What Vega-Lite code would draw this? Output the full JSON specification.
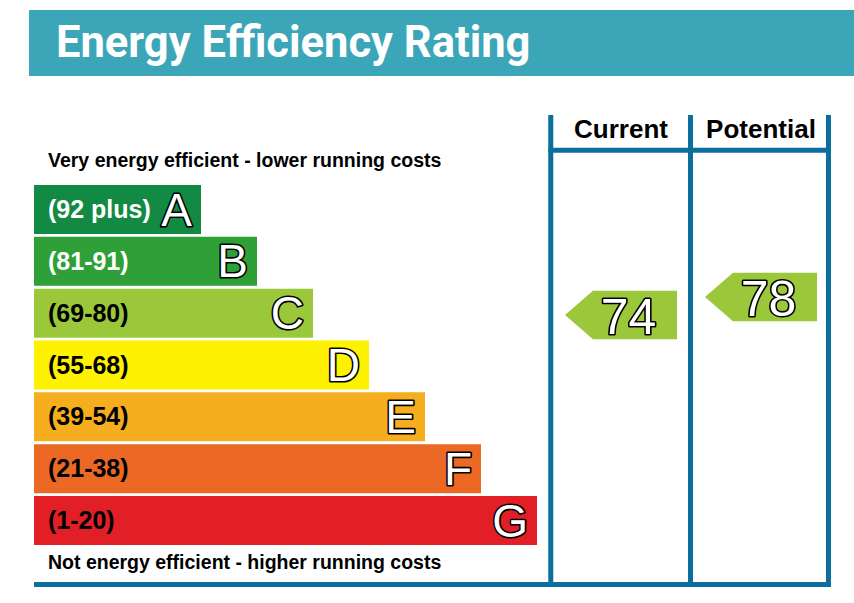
{
  "$schema": "https://vega.github.io/schema/vega-lite/v6.json",
  "width": 854,
  "height": 603,
  "autosize": {"type": "none"},
  "padding": 0,
  "background": "white",
  "config": {
    "view": {"stroke": null},
    "text": {"font": "Liberation Sans"}
  },
  "datasets": {
    "bands": [
      {"band": "A", "range": "(92 plus)", "order": 1},
      {"band": "B", "range": "(81-91)", "order": 2},
      {"band": "C", "range": "(69-80)", "order": 3},
      {"band": "D", "range": "(55-68)", "order": 4},
      {"band": "E", "range": "(39-54)", "order": 5},
      {"band": "F", "range": "(21-38)", "order": 6},
      {"band": "G", "range": "(1-20)", "order": 7}
    ],
    "ratings": [
      {"type": "Current", "score": 74},
      {"type": "Potential", "score": 78}
    ],
    "frame": [{}]
  },
  "layer": [
    {
      "data": {"name": "bands"},
      "layer": [
        {
          "data": {"name": "frame"},
          "mark": {"type": "rect", "fill": "#3CA6B9"},
          "encoding": {
            "x": {"datum": -2.0714, "type": "quantitative", "axis": null, "scale": {"domain": [-2.5893, 12.6607], "nice": false, "zero": false, "padding": 0}},
            "x2": {"datum": 12.6607},
            "y": {"datum": -2.8489, "type": "quantitative", "axis": null, "scale": {"domain": [-3.0418, 8.5916], "reverse": true, "nice": false, "zero": false, "padding": 0}},
            "y2": {"datum": -1.5755}
          }
        },
        {
          "data": {"name": "frame"},
          "mark": {"type": "text", "text": "Energy Efficiency Rating", "align": "left", "baseline": "alphabetic", "font": "Roboto", "fontSize": 43.5, "fontWeight": "bold", "fill": "white"},
          "encoding": {
            "x": {"datum": -1.5893, "type": "quantitative", "axis": null},
            "y": {"datum": -1.9421, "type": "quantitative", "axis": null}
          }
        },
        {
          "data": {"name": "frame"},
          "mark": {"type": "text", "text": "Very energy efficient - lower running costs", "align": "left", "baseline": "alphabetic", "fontSize": 19.5, "fontWeight": "bold", "fill": "black"},
          "encoding": {
            "x": {"datum": -1.7321, "type": "quantitative", "axis": null},
            "y": {"datum": 0.1801, "type": "quantitative", "axis": null}
          }
        },
        {
          "data": {"name": "frame"},
          "mark": {"type": "text", "text": "Not energy efficient - higher running costs", "align": "left", "baseline": "alphabetic", "fontSize": 19.5, "fontWeight": "bold", "fill": "black"},
          "encoding": {
            "x": {"datum": -1.7321, "type": "quantitative", "axis": null},
            "y": {"datum": 7.935, "type": "quantitative", "axis": null}
          }
        },
        {
          "mark": {"type": "bar", "height": 49, "orient": "horizontal"},
          "encoding": {
            "x": {"field": "order", "type": "quantitative", "axis": null},
            "x2": {"datum": -1.982},
            "y": {"field": "order", "type": "quantitative", "axis": null},
            "color": {
              "field": "band", "type": "nominal", "legend": null,
              "scale": {"domain": ["A", "B", "C", "D", "E", "F", "G"], "range": ["#138A43", "#2EA037", "#9BC83A", "#FFF200", "#F6AD1E", "#EB6925", "#E21F26"]}
            }
          }
        },
        {
          "mark": {"type": "text", "align": "left", "baseline": "alphabetic", "fontSize": 25, "fontWeight": "bold", "dy": 8.5},
          "encoding": {
            "x": {"datum": -1.7321, "type": "quantitative", "axis": null},
            "y": {"field": "order", "type": "quantitative", "axis": null},
            "text": {"field": "range", "type": "nominal"},
            "color": {"condition": {"test": "datum.order <= 2", "value": "white"}, "value": "black"}
          }
        },
        {
          "mark": {"type": "text", "align": "right", "baseline": "alphabetic", "fontSize": 46, "fill": "black", "stroke": "black", "strokeWidth": 3.2, "strokeJoin": "round", "dx": -9, "dy": 16},
          "encoding": {
            "x": {"field": "order", "type": "quantitative", "axis": null},
            "y": {"field": "order", "type": "quantitative", "axis": null},
            "text": {"field": "band", "type": "nominal"}
          }
        },
        {
          "mark": {"type": "text", "align": "right", "baseline": "alphabetic", "fontSize": 46, "fill": "white", "dx": -9, "dy": 16},
          "encoding": {
            "x": {"field": "order", "type": "quantitative", "axis": null},
            "y": {"field": "order", "type": "quantitative", "axis": null},
            "text": {"field": "band", "type": "nominal"}
          }
        },
        {
          "data": {"name": "frame"},
          "mark": {"type": "rule", "stroke": "#0B6E9C", "strokeWidth": 5},
          "encoding": {
            "x": {"datum": 7.246, "type": "quantitative", "axis": null},
            "y": {"datum": -0.8232, "type": "quantitative", "axis": null},
            "y2": {"datum": 8.283}
          }
        },
        {
          "data": {"name": "frame"},
          "mark": {"type": "rule", "stroke": "#0B6E9C", "strokeWidth": 5},
          "encoding": {
            "x": {"datum": 9.741, "type": "quantitative", "axis": null},
            "y": {"datum": -0.8232, "type": "quantitative", "axis": null},
            "y2": {"datum": 8.283}
          }
        },
        {
          "data": {"name": "frame"},
          "mark": {"type": "rule", "stroke": "#0B6E9C", "strokeWidth": 5},
          "encoding": {
            "x": {"datum": 12.205, "type": "quantitative", "axis": null},
            "y": {"datum": -0.8232, "type": "quantitative", "axis": null},
            "y2": {"datum": 8.283}
          }
        },
        {
          "data": {"name": "frame"},
          "mark": {"type": "rule", "stroke": "#0B6E9C", "strokeWidth": 5},
          "encoding": {
            "x": {"datum": 7.202, "type": "quantitative", "axis": null},
            "x2": {"datum": 12.25},
            "y": {"datum": -0.1441, "type": "quantitative", "axis": null}
          }
        },
        {
          "data": {"name": "frame"},
          "mark": {"type": "rule", "stroke": "#0B6E9C", "strokeWidth": 5},
          "encoding": {
            "x": {"datum": -1.982, "type": "quantitative", "axis": null},
            "x2": {"datum": 12.25},
            "y": {"datum": 8.2347, "type": "quantitative", "axis": null}
          }
        }
      ]
    },
    {
      "data": {"name": "ratings"},
      "layer": [
        {
          "mark": {"type": "point", "shape": "M-1,0L-0.5,-0.433L1,-0.433L1,0.433L-0.5,0.433Z", "size": 12544, "filled": true, "fill": "#9BC83A", "opacity": 1, "strokeWidth": 0},
          "encoding": {
            "x": {"field": "type", "type": "nominal", "axis": null, "scale": {"type": "point", "domain": ["Current", "Potential"], "range": [621, 761], "padding": 0}},
            "y": {"field": "score", "type": "quantitative", "axis": null, "scale": {"domain": [10, 144], "nice": false, "zero": false, "padding": 0}}
          }
        },
        {
          "mark": {"type": "text", "align": "center", "baseline": "alphabetic", "fontSize": 50, "fill": "black", "stroke": "black", "strokeWidth": 3.2, "strokeJoin": "round", "dx": 7.5, "dy": 18.5},
          "encoding": {
            "x": {"field": "type", "type": "nominal", "axis": null},
            "y": {"field": "score", "type": "quantitative", "axis": null},
            "text": {"field": "score", "type": "quantitative"}
          }
        },
        {
          "mark": {"type": "text", "align": "center", "baseline": "alphabetic", "fontSize": 50, "fill": "white", "dx": 7.5, "dy": 18.5},
          "encoding": {
            "x": {"field": "type", "type": "nominal", "axis": null},
            "y": {"field": "score", "type": "quantitative", "axis": null},
            "text": {"field": "score", "type": "quantitative"}
          }
        },
        {
          "mark": {"type": "text", "align": "center", "baseline": "alphabetic", "fontSize": 26, "fontWeight": "bold", "fill": "black"},
          "encoding": {
            "x": {"field": "type", "type": "nominal", "axis": null},
            "y": {"datum": 113.27, "type": "quantitative", "axis": null},
            "text": {"field": "type", "type": "nominal"}
          }
        }
      ]
    }
  ],
  "resolve": {"scale": {"x": "independent", "y": "independent"}}
}
